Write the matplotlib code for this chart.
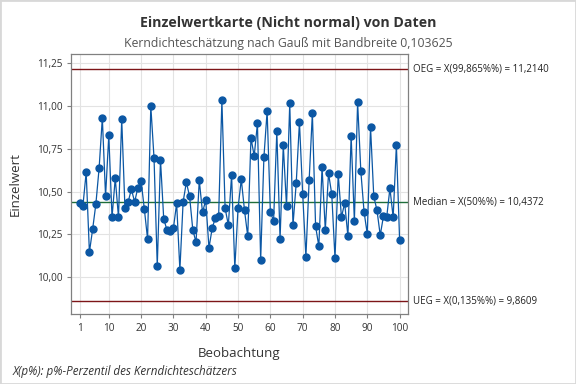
import matplotlib
matplotlib.use("Agg")
import matplotlib.pyplot as plt
from matplotlib.ticker import FuncFormatter
from matplotlib.patches import Rectangle

plt.rcParams['font.family'] = ['Open Sans', 'DejaVu Sans']

# Einzelwerte
werte = [10.435, 10.418, 10.612, 10.146, 10.280, 10.427, 10.635, 10.929, 10.472, 10.827,
         10.350, 10.577, 10.350, 10.921, 10.404, 10.441, 10.513, 10.439, 10.523, 10.561,
         10.398, 10.223, 10.998, 10.695, 10.066, 10.684, 10.340, 10.276, 10.270, 10.287,
         10.431, 10.043, 10.439, 10.554, 10.472, 10.276, 10.204, 10.565, 10.379, 10.449,
         10.171, 10.286, 10.348, 10.359, 11.031, 10.402, 10.304, 10.596, 10.054, 10.402,
         10.571, 10.390, 10.239, 10.812, 10.707, 10.897, 10.099, 10.699, 10.969, 10.381,
         10.328, 10.851, 10.223, 10.769, 10.414, 11.014, 10.303, 10.548, 10.904, 10.486,
         10.118, 10.565, 10.956, 10.297, 10.181, 10.641, 10.276, 10.606, 10.484, 10.111,
         10.600, 10.350, 10.433, 10.239, 10.824, 10.328, 11.020, 10.618, 10.381, 10.251,
         10.876, 10.472, 10.390, 10.245, 10.356, 10.350, 10.519, 10.350, 10.771, 10.216]
beobachtung = list(range(1, len(werte) + 1))

oeg = 11.2140
median = 10.4372
ueg = 9.8609

x_ticks = [1, 10, 20, 30, 40, 50, 60, 70, 80, 90, 100]
y_ticks = [10.00, 10.25, 10.50, 10.75, 11.00, 11.25]

blue = '#0b57a4'
red = '#7d1518'
green = '#1f6e3a'
txt = '#333333'

fig = plt.figure(figsize=(5.76, 3.84), dpi=100)
ax = fig.add_axes([0.1238, 0.1815, 0.5840, 0.6771])

ax.grid(True, color='#e3e3e3', linewidth=0.8, zorder=0)
ax.axhline(oeg, color=red, linewidth=1.0, zorder=2)
ax.axhline(ueg, color=red, linewidth=1.0, zorder=2)
ax.axhline(median, color=green, linewidth=1.0, zorder=2)
ax.plot(beobachtung, werte, color=blue, linewidth=0.9, marker='o',
        markersize=5, markerfacecolor=blue, markeredgecolor=blue, zorder=3)

ax.set_xlim(-1.6, 102.5)
ax.set_ylim(9.784, 11.30)
ax.set_xticks(x_ticks)
ax.set_yticks(y_ticks)
ax.yaxis.set_major_formatter(FuncFormatter(lambda v, p: f"{v:.2f}".replace('.', ',')))
ax.tick_params(labelsize=7.2, colors='#808080', labelcolor=txt, length=3, width=0.8)
for s in ax.spines.values():
    s.set_color('#808080')
    s.set_linewidth(0.9)

ax.set_xlabel('Beobachtung', fontsize=9.5, color=txt, labelpad=9)
ax.set_ylabel('Einzelwert', fontsize=9.5, color=txt, labelpad=11)

lim_labels = [(oeg, 'OEG = X(99,865%%) = 11,2140'),
              (median, 'Median = X(50%%) = 10,4372'),
              (ueg, 'UEG = X(0,135%%) = 9,8609')]
for yv, lab in lim_labels:
    ax.annotate(lab, xy=(1, yv), xycoords=('axes fraction', 'data'),
                xytext=(3.5, 0), textcoords='offset points', va='center', ha='left',
                fontsize=7.0, color='#222222', annotation_clip=False)

fig.text(0.5, 0.94, 'Einzelwertkarte (Nicht normal) von Daten', ha='center', va='center',
         fontsize=10.2, fontweight='bold', color=txt)
fig.text(0.5, 0.888, 'Kerndichteschätzung nach Gauß mit Bandbreite 0,103625', ha='center',
         va='center', fontsize=8.8, color='#555555')
fig.text(0.022, 0.032, 'X(p%): p%-Perzentil des Kerndichteschätzers', ha='left', va='center',
         fontsize=8.4, style='italic', color=txt)

fig.patches.append(Rectangle((0, 0), 1, 1, transform=fig.transFigure, fill=False,
                             edgecolor='#d8d8d8', linewidth=2))

fig.savefig('out.png', dpi=100)
